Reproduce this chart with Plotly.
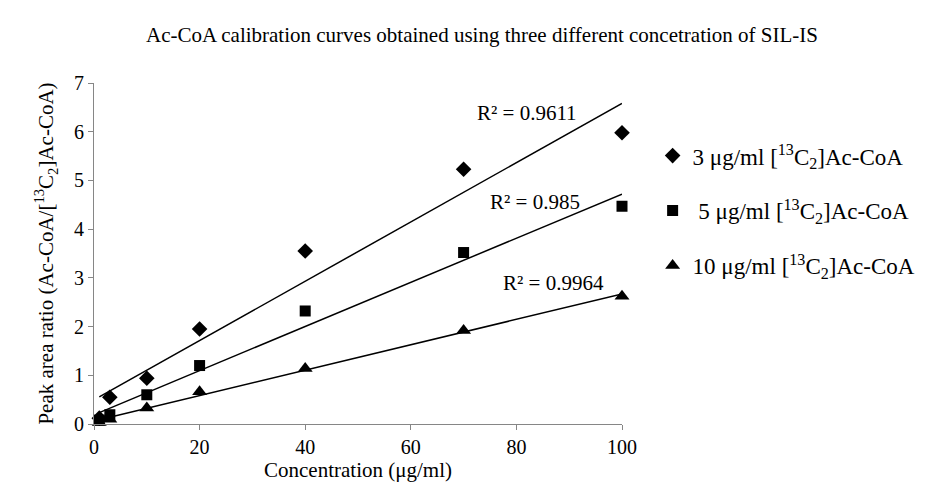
import numpy as np
import plotly.graph_objects as go

conc = [1, 3, 10, 20, 40, 70, 100]
series_names = ["3 μg/ml [<sup>13</sup>C<sub>2</sub>]Ac-CoA",
                " 5 μg/ml [<sup>13</sup>C<sub>2</sub>]Ac-CoA",
                "10 μg/ml [<sup>13</sup>C<sub>2</sub>]Ac-CoA"]
ratio_3 = [0.12, 0.55, 0.94, 1.95, 3.55, 5.23, 5.98]
ratio_5 = [0.08, 0.19, 0.60, 1.20, 2.32, 3.52, 4.47]
ratio_10 = [0.03, 0.10, 0.33, 0.66, 1.14, 1.92, 2.62]
r2_labels = ["R² = 0.9611", "R² = 0.985", "R² = 0.9964"]
r2_pos_x = [82, 83.5, 87]
r2_pos_y = [6.38, 4.56, 2.9]
symbols = ["diamond", "square", "triangle-up"]
sizes = [12, 11, 13]

FONT = "Liberation Serif, Times New Roman, serif"
fig = go.Figure()
for i, (name, ys) in enumerate(zip(series_names, [ratio_3, ratio_5, ratio_10])):
    fig.add_trace(go.Scatter(x=conc, y=ys, mode="markers", name=name,
                             legendgroup=f"g{i}", cliponaxis=False,
                             marker=dict(symbol=symbols[i], size=sizes[i], color="black")))
    m, b = np.polyfit(conc, ys, 1)
    xl = [min(conc), max(conc)]
    fig.add_trace(go.Scatter(x=xl, y=[m * v + b for v in xl], mode="lines",
                             line=dict(color="black", width=1.5), showlegend=False,
                             legendgroup=f"g{i}", hoverinfo="skip", cliponaxis=False))
    fig.add_annotation(x=r2_pos_x[i], y=r2_pos_y[i], text=r2_labels[i], showarrow=False,
                       font=dict(family=FONT, size=21, color="black"))

fig.update_layout(
    width=935, height=488,
    margin=dict(l=94, r=313, t=83, b=64),
    paper_bgcolor="white", plot_bgcolor="white",
    font=dict(family=FONT, color="black", size=21),
    title=dict(text="Ac-CoA calibration curves obtained using three different concetration of SIL-IS",
               x=146 / 935, xanchor="left", y=1 - 35 / 488, yanchor="middle",
               font=dict(family=FONT, size=21, color="black")),
    legend=dict(x=1.058, xanchor="left", y=0.85, yanchor="top", tracegroupgap=22,
                font=dict(family=FONT, size=23, color="black"), bgcolor="rgba(0,0,0,0)",
                itemwidth=30, borderwidth=0),
    showlegend=True,
)
fig.update_xaxes(range=[0, 100], tickvals=[0, 20, 40, 60, 80, 100], showline=True,
                 linecolor="#868686", linewidth=1, ticks="outside", tickcolor="#868686",
                 ticklen=5, showgrid=False, zeroline=False,
                 title=dict(text="Concentration (μg/ml)", font=dict(family=FONT, size=21), standoff=4),
                 tickfont=dict(family=FONT, size=20))
fig.update_yaxes(range=[0, 7], tickvals=list(range(8)), showline=True,
                 linecolor="#868686", linewidth=1, ticks="outside", tickcolor="#868686",
                 ticklen=5, showgrid=False, zeroline=False,
                 title=dict(text="Peak area ratio (Ac-CoA/[<sup>13</sup>C<sub>2</sub>]Ac-CoA)",
                            font=dict(family=FONT, size=21), standoff=14),
                 tickfont=dict(family=FONT, size=20))
fig.write_html("out.html")
